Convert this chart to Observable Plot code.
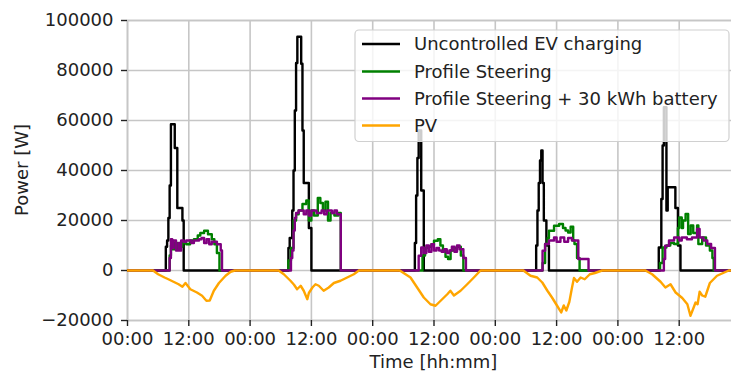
<!DOCTYPE html>
<html><head><meta charset="utf-8">
<script src="https://cdn.jsdelivr.net/npm/d3@7"></script>
<script src="https://cdn.jsdelivr.net/npm/@observablehq/plot@0.6"></script>
<style>
html,body{margin:0;padding:0;background:#fff;overflow:hidden;}
#wrap{position:relative;width:731px;height:374px;overflow:hidden;}
#wrap svg{max-width:none !important;}
</style></head><body><div id="wrap"></div>
<script>
// Time in hours from the first midnight, power in W
const uncontrolledEV = [
[0,0],
[7.5,9500],[7.75,12000],[8,21000],[8.25,34000],[8.5,58500],[9.25,49000],[9.75,25000],[10.75,20000],[11,0],
[31.5,9000],[31.75,13000],[32.25,24000],[32.5,40000],[32.75,64000],[33,83000],[33.25,93500],[34,82700],[34.25,56000],[34.5,35000],[35.5,17000],[36,0],
[56.25,11000],[56.5,30000],[56.75,45000],[57,56000],[57.5,32000],[58,0],
[80,10000],[80.25,24000],[80.5,35000],[80.75,44000],[81,48000],[81.25,35000],[81.5,20000],[82,10000],[82.5,0],
[104,9200],[104.5,28600],[104.75,50000],[105,65300],[105.5,24000],[105.75,33300],[107.25,25000],[107.75,10000],[108.25,0],
[120,0]
];
const profileSteering = [
[0,0],
[8.25,6000],[8.5,10000],[8.75,8500],[9.25,11000],[9.75,8500],[10.25,9500],[10.75,11000],[11.5,10500],[12.25,12000],[13,12500],[13.75,14000],[14.25,15000],[15,15900],[15.75,14500],[16.5,12500],[17,10500],[17.5,7000],[18,0],
[31.5,4000],[32,9000],[32.5,20000],[33,22500],[33.5,24000],[34.25,26600],[35,28000],[35.5,20000],[36,24000],[36.5,22000],[37.25,29000],[37.75,27000],[38.25,24000],[38.75,27500],[39.25,20000],[39.75,23000],[40.5,22000],[41.25,23000],[41.75,0],
[57.75,6000],[58.25,9000],[58.75,9500],[59.5,10500],[60,11900],[60.75,12500],[61.25,10000],[61.75,8000],[62.25,5500],[62.75,4600],[63.25,8000],[64,9000],[64.5,9500],[65.25,6000],[65.75,0],
[81.25,3000],[81.75,10600],[82.25,13000],[82.5,15900],[83.5,17900],[84.5,18600],[85.25,17000],[85.75,16000],[86.25,15200],[86.75,17500],[87.25,12000],[87.5,10600],[88,5000],[88.5,0],
[104.25,3000],[104.75,9200],[105.5,10000],[106.25,11000],[107,10600],[107.75,17000],[108,21200],[108.5,17000],[108.75,20000],[109.25,22600],[109.75,14600],[110.25,18000],[110.75,15000],[111.5,18000],[111.75,10600],[112.5,13200],[113.25,10000],[114,8000],[114.5,5000],[114.75,0],
[120,0]
];
const profileSteeringBattery = [
[0,0],
[8.25,5000],[8.5,12500],[8.75,9000],[9,12000],[9.5,8000],[10,11000],[10.25,8000],[10.5,12000],[11,11500],[11.5,12000],[12.5,11000],[13,12000],[14,12500],[14.5,13000],[15,11000],[15.5,12500],[16,10500],[16.5,11500],[17.5,10500],[18.25,8000],[18.5,0],
[32,5000],[32.25,8000],[32.5,16000],[32.75,21000],[33,23000],[33.5,24000],[34.5,22500],[35,24000],[35.5,22000],[36,24000],[37,23000],[38,24000],[38.5,22500],[39,24000],[40,23000],[40.5,24000],[41,22500],[41.75,0],
[57,5900],[57.5,9200],[58,7000],[58.5,10000],[59,7500],[59.5,10500],[60,8000],[60.5,9000],[61,8000],[61.5,7500],[62,8500],[62.5,7000],[63,8000],[63.5,9500],[64,7500],[64.5,10000],[65,8500],[65.75,5000],[66.25,0],
[81.25,7900],[81.75,10600],[82.5,12000],[83.5,13200],[84,11500],[84.75,13200],[85.5,11500],[86.25,13000],[87,12000],[88.25,4600],[90.25,0],
[105,4600],[105.25,9900],[106,12000],[107,13200],[108,12000],[108.5,13200],[109.5,12500],[110.5,13200],[111.5,16600],[112,13200],[112.75,12000],[113.5,10600],[114.25,9000],[115,0],
[120,0]
];
const pv = [
[0,0],[5,0],[6,-1500],[7.25,-2800],[8,-3500],[9,-4500],[10,-5500],[10.75,-6500],[11.35,-5000],[12.3,-7500],[13.6,-8800],[14.6,-10100],[15.45,-12100],[16.1,-12000],[16.9,-8100],[17.9,-5000],[19.2,-2100],[20.2,-500],[21,0],
[29.6,0],[30.6,-1500],[31.9,-4100],[32.6,-5700],[33.2,-7500],[33.9,-6100],[34.5,-8100],[35.2,-11500],[35.5,-9000],[36.2,-6800],[36.8,-5500],[37.45,-6100],[38.4,-8100],[39.4,-6800],[40.4,-5000],[41.7,-4100],[43,-2800],[44.3,-1500],[45.3,0],
[53.3,0],[55.4,-2800],[56.7,-6800],[58,-10800],[59.3,-13500],[60.3,-14100],[61.3,-12100],[62.6,-9500],[63.2,-8100],[63.9,-10000],[65.2,-8100],[66.5,-5500],[67.8,-2800],[69.1,0],
[77.5,0],[78.9,-2100],[80.2,-2800],[81.2,-4800],[82.2,-8100],[83.1,-10800],[84.1,-14100],[84.9,-16800],[85.4,-14000],[85.9,-16000],[86.5,-12500],[87,-7000],[87.4,-3000],[88,-4500],[88.7,-2800],[89.5,-3500],[90.5,-1500],[91.5,-1000],[92.9,0],
[101.4,0],[102.7,-1500],[104.35,-4500],[105.3,-6800],[106.3,-5500],[107.3,-8800],[108.6,-11000],[109.6,-13500],[110.2,-18100],[110.7,-15500],[111.2,-12800],[111.6,-13500],[112,-8500],[112.5,-10000],[113.1,-10500],[114,-5000],[115.4,-2100],[117.7,0],[120,0]
];
const seriesNames = ["Uncontrolled EV charging","Profile Steering","Profile Steering + 30 kWh battery","PV"];
const seriesColors = ["#000000","#008000","#800080","#FFA500"];
const xTicks = [0,12,24,36,48,60,72,84,96,108];
const xTickLabels = ["00:00","12:00","00:00","12:00","00:00","12:00","00:00","12:00","00:00","12:00"];
const yTicks = [-20000,0,20000,40000,60000,80000,100000];
const xLabel = "Time [hh:mm]";
const yLabel = "Power [W]";

const fmtY = d => d < 0 ? "\u2212" + Math.abs(d) : String(d);
const gridColor = "#c6c6c6";
const seriesData = [uncontrolledEV, profileSteering, profileSteeringBattery, pv];
const curves = ["step-after","step-after","step-after","linear"];

const lineMarks = seriesData.map((data, i) => Plot.line(data, {
  x: d => d[0], y: d => d[1], curve: curves[i],
  stroke: seriesColors[i], strokeWidth: 2.4, clip: true
}));

const chart = Plot.plot({
  width: 741, height: 374,
  marginLeft: 127, marginRight: 1, marginTop: 20, marginBottom: 54,
  style: {fontFamily: "'DejaVu Sans', sans-serif", fontSize: "18px", background: "#fff", color: "#222", maxWidth: "none"},
  x: {domain: [0,120]},
  y: {domain: [-20000,100000]},
  marks: [
    Plot.gridX(xTicks, {stroke: gridColor, strokeOpacity: 1, strokeWidth: 1.6}),
    Plot.gridY(yTicks, {stroke: gridColor, strokeOpacity: 1, strokeWidth: 1.6}),
    Plot.frame({stroke: gridColor, strokeWidth: 1.6}),
    ...lineMarks,
    Plot.axisX(xTicks, {tickFormat: d => xTickLabels[xTicks.indexOf(d)], tickSize: 6, tickPadding: 6, label: null, fontSize: 18, strokeWidth: 1.4}),
    Plot.axisY(yTicks, {tickFormat: fmtY, tickSize: 6, tickPadding: 8, label: null, fontSize: 18, strokeWidth: 1.4})
  ]
});

const svg = d3.select(chart);
svg.append("text").attr("x", 433.5).attr("y", 368).attr("text-anchor", "middle")
  .attr("fill", "#222").style("font-size", "18px").text(xLabel);
svg.append("text").attr("transform", "translate(28,170) rotate(-90)").attr("text-anchor", "middle")
  .attr("fill", "#222").style("font-size", "18px").text(yLabel);

const lg = svg.append("g").attr("text-anchor", "start");
lg.append("rect").attr("x", 355).attr("y", 30).attr("width", 374).attr("height", 111.5)
  .attr("rx", 4).attr("fill", "#fff").attr("fill-opacity", 0.8).attr("stroke", "#d0d0d0").attr("stroke-width", 1.2);
const rowY = [44, 71.5, 98.5, 125.5];
seriesNames.forEach((name, i) => {
  lg.append("line").attr("x1", 362).attr("x2", 400).attr("y1", rowY[i]).attr("y2", rowY[i])
    .attr("stroke", seriesColors[i]).attr("stroke-width", 2.4);
  lg.append("text").attr("x", 414).attr("y", rowY[i]).attr("dy", "0.36em").attr("text-anchor", "start")
    .attr("fill", "#222").style("font-size", "18px").text(name);
});

document.getElementById("wrap").appendChild(chart);
</script></body></html>
